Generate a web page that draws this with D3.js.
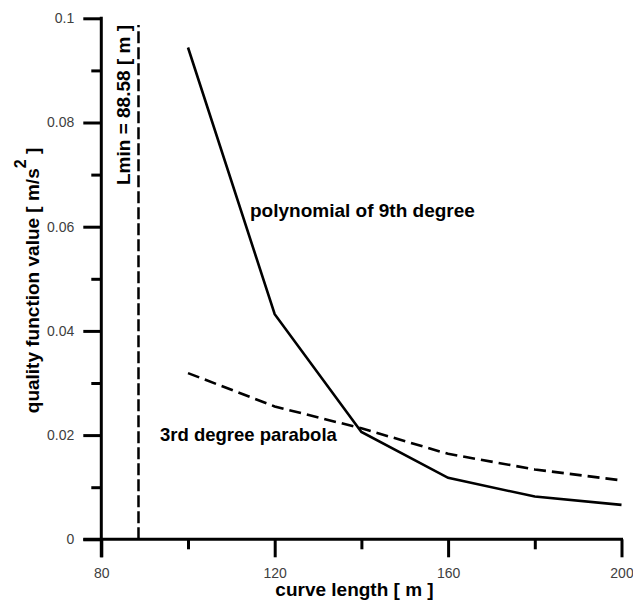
<!DOCTYPE html>
<html>
<head>
<meta charset="utf-8">
<script src="https://cdn.jsdelivr.net/npm/d3@7"></script>
<style>
  html, body { margin: 0; padding: 0; background: #fff; }
  svg { display: block; }
  text { font-family: "Liberation Sans", Arial, sans-serif; }
</style>
</head>
<body>
<svg id="chart" width="633" height="603"></svg>
<script>
// Curve lengths [m] at which the quality function was evaluated
const curveLengths = [100, 120, 140, 160, 180, 200];
// Quality function value [m/s^2] for the 9th degree polynomial transition
const polynomial9 = [0.0944, 0.0432, 0.0206, 0.0118, 0.0082, 0.0066];
// Quality function value [m/s^2] for the 3rd degree parabola transition
const parabola3 = [0.0319, 0.0255, 0.0213, 0.0164, 0.0134, 0.0113];
// Minimum admissible curve length [m] and top of its marker line
const lMin = 88.58;
const lMinTop = 0.0987;

// Axis ticks
const xMajorTicks = [80, 120, 160, 200];
const xMinorTicks = [100, 140, 180];
const yMajorTicks = [0, 0.02, 0.04, 0.06, 0.08, 0.1];
const yMajorLabels = ["0", "0.02", "0.04", "0.06", "0.08", "0.1"];
const yMinorTicks = [0.01, 0.03, 0.05, 0.07, 0.09];

const svg = d3.select("#chart");

const x = d3.scaleLinear().domain([80, 200]).range([101.3, 621.5]);
const y = d3.scaleLinear().domain([0, 0.1]).range([539.3, 18.3]);

const majorLen = 18, minorLen = 10;
const axisColor = "#000";
const labelColor = "#404040";

// ---- X axis ----
const gx = svg.append("g").attr("transform", `translate(0,${y(0)})`);
gx.append("g")
  .call(d3.axisBottom(x).tickValues(xMinorTicks).tickSize(minorLen).tickFormat(""))
  .call(g => g.select(".domain").remove());
gx.append("g")
  .call(d3.axisBottom(x).tickValues(xMajorTicks).tickSize(majorLen).tickPadding(11)
    .tickFormat(d3.format("d")))
  .call(g => g.select(".domain").remove());
gx.append("line")
  .attr("x1", x(80) - majorLen).attr("x2", x(200) + 1.5)
  .attr("y1", 0).attr("y2", 0);

// ---- Y axis ----
const gy = svg.append("g").attr("transform", `translate(${x(80)},0)`);
gy.append("g")
  .call(d3.axisLeft(y).tickValues(yMinorTicks).tickSize(minorLen).tickFormat(""))
  .call(g => g.select(".domain").remove());
gy.append("g")
  .call(d3.axisLeft(y).tickValues(yMajorTicks).tickSize(majorLen).tickPadding(9)
    .tickFormat((d, i) => yMajorLabels[i]))
  .call(g => g.select(".domain").remove());
gy.append("line")
  .attr("x1", 0).attr("x2", 0)
  .attr("y1", y(0.1) - 1.5).attr("y2", y(0) + majorLen);

svg.selectAll(".tick line, g > line")
  .attr("stroke", axisColor).attr("stroke-width", 3);
svg.selectAll(".tick text")
  .attr("fill", labelColor)
  .attr("font-size", 14)
  .attr("font-family", "'Liberation Sans', Arial, sans-serif");

// ---- Lmin marker ----
svg.append("line")
  .attr("x1", x(lMin)).attr("x2", x(lMin))
  .attr("y1", y(0)).attr("y2", y(lMinTop))
  .attr("stroke", "#000").attr("stroke-width", 2.5)
  .attr("stroke-dasharray", "12,4");

svg.append("text")
  .attr("transform", `translate(${x(lMin) - 8},105) rotate(-90)`)
  .attr("text-anchor", "middle")
  .attr("font-size", 19).attr("font-weight", "bold")
  .attr("fill", "#000")
  .text(`Lmin = ${lMin} [ m ]`);

// ---- Curves ----
const line = d3.line().x(d => x(d[0])).y(d => y(d[1]));

svg.append("path")
  .datum(curveLengths.map((c, i) => [c, parabola3[i]]))
  .attr("d", line)
  .attr("fill", "none").attr("stroke", "#000").attr("stroke-width", 2.6)
  .attr("stroke-dasharray", "12,6");

svg.append("path")
  .datum(curveLengths.map((c, i) => [c, polynomial9[i]]))
  .attr("d", line)
  .attr("fill", "none").attr("stroke", "#000").attr("stroke-width", 2.6)
  .attr("stroke-linejoin", "miter");

// ---- Curve labels ----
svg.append("text")
  .attr("x", 250).attr("y", 217)
  .attr("font-size", 19).attr("font-weight", "bold").attr("fill", "#000")
  .text("polynomial of 9th degree");

svg.append("text")
  .attr("x", 160).attr("y", 441)
  .attr("font-size", 18.5).attr("font-weight", "bold").attr("fill", "#000")
  .text("3rd degree parabola");

// ---- Axis titles ----
svg.append("text")
  .attr("x", 354.5).attr("y", 596)
  .attr("text-anchor", "middle")
  .attr("font-size", 19).attr("font-weight", "bold").attr("fill", "#000")
  .text("curve length [ m ]");

const yTitle = svg.append("text")
  .attr("transform", "translate(39,280.5) rotate(-90)")
  .attr("text-anchor", "middle")
  .attr("font-size", 19).attr("font-weight", "bold").attr("fill", "#000");
yTitle.append("tspan").text("quality function value [ m/s");
yTitle.append("tspan").attr("dy", -13).attr("font-size", 16).text("2");
yTitle.append("tspan").attr("dy", 13).text(" ]");
</script>
</body>
</html>
